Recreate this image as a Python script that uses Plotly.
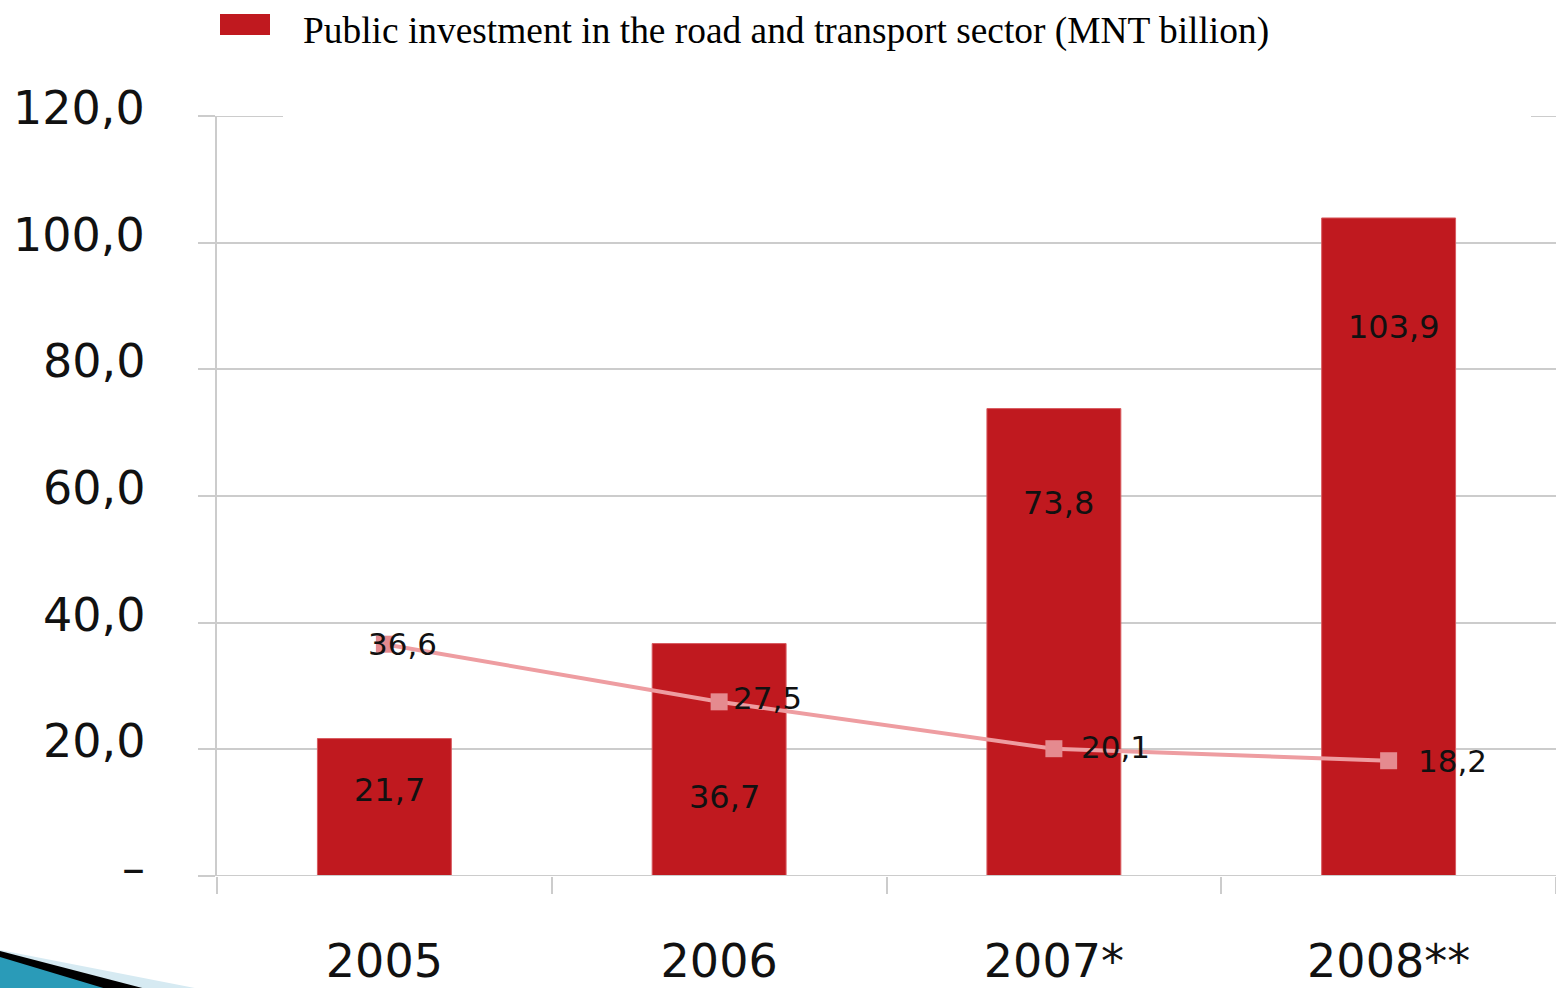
import plotly.graph_objects as go

# ---- data ----
categories = ["2005", "2006", "2007*", "2008**"]
investment = [21.7, 36.7, 73.8, 103.9]          # bars (MNT billion)
share_line = [36.6, 27.5, 20.1, 18.2]           # line series
y_tick_vals = [0, 20, 40, 60, 80, 100, 120]
y_tick_text = ["–", "20,0", "40,0", "60,0", "80,0", "100,0", "120,0"]
legend_text = "Public investment in the road and transport sector (MNT billion)"

# ---- style / placement ----
OFF = 0
W, H = 1556 - OFF, 988 - OFF
L, R, T, B = 217 - OFF, 0, 116 - OFF, 112
BAR_COLOR = "#C0191F"
LINE_COLOR = "#EE9DA1"
MARK_COLOR = "#E58A8F"
GRID = "#CCCCCC"
TXT = "#111111"
bar_label_y = [13.6, 12.5, 58.9, 86.7]
line_label_anchor = ["center", "left", "left", "left"]
line_label_xshift = [18, 12, 25, 27]
line_label_yshift = [0, 4, 2, 0]

def fmt(v):
    return f"{v:.1f}".replace(".", ",")

def px(x):  # reference screen pixel -> paper x
    return (x - OFF - L) / (W - L - R)

def py(y):  # reference screen pixel -> paper y
    return (H - B - (y - OFF)) / (H - T - B)

fig = go.Figure()
fig.add_trace(go.Bar(
    x=categories, y=investment, width=0.4,
    marker=dict(color=BAR_COLOR, line=dict(color="#D85A5F", width=1)),
    showlegend=False, hoverinfo="skip",
))
fig.add_trace(go.Scatter(
    x=categories, y=share_line, mode="lines+markers",
    line=dict(color=LINE_COLOR, width=4),
    marker=dict(symbol="square", size=17, color=MARK_COLOR),
    showlegend=False, hoverinfo="skip",
))

annotations = []
# category axis: annotation x given as category index
for i, (v, ly) in enumerate(zip(investment, bar_label_y)):
    annotations.append(dict(x=i, y=ly, text=fmt(v), showarrow=False, xshift=5,
                            font=dict(family="DejaVu Sans", size=32, color=TXT)))
for i, (v, a, xs, ys) in enumerate(zip(share_line, line_label_anchor,
                                       line_label_xshift, line_label_yshift)):
    annotations.append(dict(x=i, y=v, text=fmt(v), showarrow=False, xanchor=a,
                            xshift=xs, yshift=ys,
                            font=dict(family="DejaVu Sans", size=31, color=TXT)))
# y tick labels (drawn slightly above their grid lines, as in the reference)
for v, t in zip(y_tick_vals, y_tick_text):
    annotations.append(dict(xref="paper", x=px(147), y=v, yref="y", text=t,
                            xanchor="right", yanchor="middle", showarrow=False,
                            yshift=8,
                            font=dict(family="DejaVu Sans", size=46, color=TXT)))
annotations.append(dict(xref="paper", yref="paper", x=px(301), y=py(31),
                        xanchor="left", yanchor="middle", showarrow=False,
                        text=legend_text,
                        font=dict(family="Liberation Serif", size=37.4, color="#000")))

y_top, y_bot = y_tick_vals[-1], y_tick_vals[0]
shapes = [
    # top (120) grid line, partly hidden by a white patch in the reference
    dict(type="line", xref="paper", yref="y", x0=px(200), x1=px(1556),
         y0=y_top, y1=y_top, line=dict(color=GRID, width=2), layer="above"),
    # baseline (0) grid line
    dict(type="line", xref="paper", yref="y", x0=px(200), x1=px(1556),
         y0=y_bot, y1=y_bot, line=dict(color=GRID, width=2), layer="above"),
    # white patch masking top part of chart (as in reference)
    dict(type="rect", xref="paper", yref="paper", x0=px(283), x1=px(1531),
         y0=py(0), y1=py(119), fillcolor="white", line=dict(width=0), layer="above"),
    # legend swatch
    dict(type="rect", xref="paper", yref="paper", x0=px(220), x1=px(270),
         y0=py(35), y1=py(14), fillcolor=BAR_COLOR, line=dict(width=0), layer="above"),
    # decorative bullet bottom-left
    dict(type="path", xref="paper", yref="paper",
         path=f"M {px(0)},{py(950)} L {px(205)},{py(990)} L {px(0)},{py(990)} Z",
         fillcolor="#D6EAF2", line=dict(width=0), layer="above"),
    dict(type="path", xref="paper", yref="paper",
         path=f"M {px(0)},{py(951)} L {px(150)},{py(990)} L {px(0)},{py(990)} Z",
         fillcolor="#000000", line=dict(width=0), layer="above"),
    dict(type="path", xref="paper", yref="paper",
         path=f"M {px(0)},{py(957)} L {px(110)},{py(990)} L {px(0)},{py(990)} Z",
         fillcolor="#2A9BB8", line=dict(width=0), layer="above"),
]

fig.update_layout(
    width=W, height=H,
    margin=dict(l=L, r=R, t=T, b=B),
    paper_bgcolor="white", plot_bgcolor="white",
    bargap=0.6, showlegend=False,
    annotations=annotations, shapes=shapes,
    xaxis=dict(
        type="category", range=[-0.5, 3.5], tickson="boundaries",
        ticks="outside", ticklen=17,
        tickwidth=2, tickcolor=GRID, showgrid=False, showline=False,
        zeroline=False, ticklabelstandoff=54, automargin=False, tickangle=0,
        tickfont=dict(family="DejaVu Sans", size=46, color=TXT),
    ),
    yaxis=dict(
        range=[0, 120], tickvals=y_tick_vals, showticklabels=False,
        showgrid=True, gridcolor=GRID, gridwidth=2,
        ticks="outside", ticklen=17, tickwidth=2, tickcolor=GRID,
        showline=True, linecolor=GRID, linewidth=2,
        zeroline=False, automargin=False,
    ),
)

fig.write_html(
    "out.html",
    config={"displayModeBar": False},
    post_script="document.body.style.margin='0';document.body.style.overflow='hidden';",
)
